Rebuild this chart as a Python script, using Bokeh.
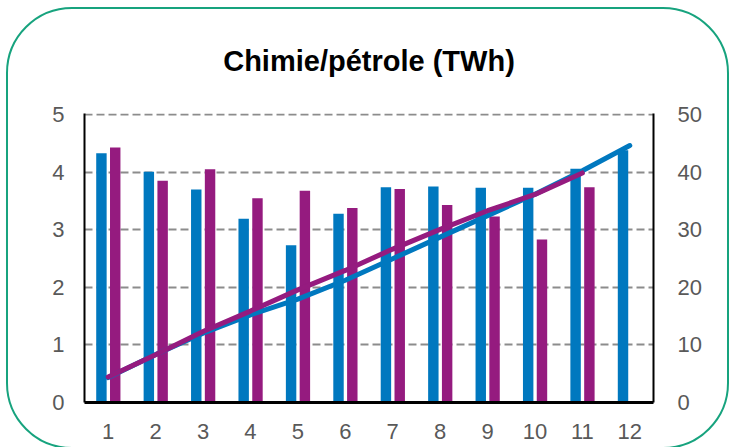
from bokeh.plotting import figure
from bokeh.models import Range1d, LinearAxis, FixedTicker, ColumnDataSource
from bokeh.transform import dodge
from bokeh.embed import file_html
from bokeh.resources import INLINE

months = [1, 2, 3, 4, 5, 6, 7, 8, 9, 10, 11, 12]
blue_monthly = [4.33, 4.01, 3.70, 3.19, 2.73, 3.28, 3.74, 3.75, 3.73, 3.73, 4.06, 4.38]
purple_months = [1, 2, 3, 4, 5, 6, 7, 8, 9, 10, 11]
purple_monthly = [4.43, 3.85, 4.05, 3.55, 3.68, 3.38, 3.71, 3.43, 3.23, 2.83, 3.74]
blue_cumul = [4.33, 8.34, 12.04, 15.23, 17.96, 21.24, 24.98, 28.73, 32.46, 36.19, 40.25, 44.63]
purple_cumul = [4.43, 8.28, 12.33, 15.88, 19.56, 22.94, 26.65, 30.08, 33.31, 36.14, 39.88]
left_ticks = [0, 1, 2, 3, 4, 5]
right_ticks = [0, 10, 20, 30, 40, 50]
title_text = "Chimie/pétrole (TWh)"

BLUE = "#0078BF"
PURPLE = "#951B7F"
FONT = "Liberation Sans"

p = figure(width=729, height=447, output_backend="svg", toolbar_location=None,
           x_range=Range1d(0.5, 12.5), y_range=Range1d(0, 5.02),
           min_border_left=84, min_border_right=76, min_border_top=113, min_border_bottom=45)
p.extra_y_ranges = {"cum": Range1d(0, 50.2)}
p.outline_line_color = None
p.background_fill_color = None
p.border_fill_color = None
frame_svg = ("url(\"data:image/svg+xml;utf8,<svg xmlns='http://www.w3.org/2000/svg' "
             "width='729' height='447'><rect x='7' y='8' width='721' height='440' rx='65' ry='65' "
             "fill='white' stroke='%2317A37E' stroke-width='2'/></svg>\")")
p.styles = {"background-image": frame_svg, "background-repeat": "no-repeat",
            "background-color": "white"}

p.title.text = title_text
p.title.text_font = FONT
p.title.text_font_size = "29px"
p.title.text_font_style = "bold"
p.title.text_color = "black"
p.title.align = "center"
p.title.offset = 5
p.title.standoff = 74

src_b = ColumnDataSource(dict(x=months, top=blue_monthly))
src_p = ColumnDataSource(dict(x=purple_months, top=purple_monthly))
p.vbar(x=dodge("x", -0.143, range=p.x_range), top="top", width=0.22, bottom=0,
       source=src_b, fill_color=BLUE, line_color=None)
p.vbar(x=dodge("x", 0.148, range=p.x_range), top="top", width=0.22, bottom=0,
       source=src_p, fill_color=PURPLE, line_color=None)

p.line(months, blue_cumul, y_range_name="cum", line_color=BLUE, line_width=5, line_cap="round")
p.line(purple_months, purple_cumul, y_range_name="cum", line_color=PURPLE, line_width=5, line_cap="round")

# axes
p.xaxis.ticker = FixedTicker(ticks=months)
p.yaxis.ticker = FixedTicker(ticks=left_ticks)
for ax in (p.xaxis[0], p.yaxis[0]):
    ax.major_tick_out = 0
    ax.major_tick_in = 0
    ax.minor_tick_out = 0
    ax.minor_tick_in = 0
    ax.axis_line_color = "black"
    ax.major_label_text_font = FONT
    ax.major_label_text_font_size = "22px"
    ax.major_label_text_color = "#595959"
p.xaxis.axis_line_width = 3
p.xaxis.major_label_standoff = 21
p.yaxis.axis_line_width = 2
p.yaxis.major_label_standoff = 20

ax_r = LinearAxis(y_range_name="cum", ticker=FixedTicker(ticks=right_ticks))
ax_r.major_tick_out = 0
ax_r.major_tick_in = 0
ax_r.minor_tick_out = 0
ax_r.minor_tick_in = 0
ax_r.axis_line_color = "black"
ax_r.axis_line_width = 2
ax_r.major_label_text_font = FONT
ax_r.major_label_text_font_size = "22px"
ax_r.major_label_text_color = "#595959"
ax_r.major_label_standoff = 24
p.add_layout(ax_r, "right")

p.xgrid.grid_line_color = None
p.ygrid.ticker = FixedTicker(ticks=left_ticks)
p.ygrid.grid_line_color = "#8C8C8C"
p.ygrid.grid_line_width = 1.8
p.ygrid.grid_line_dash = "8 4"

open("out.html", "w").write(file_html(p, INLINE))
